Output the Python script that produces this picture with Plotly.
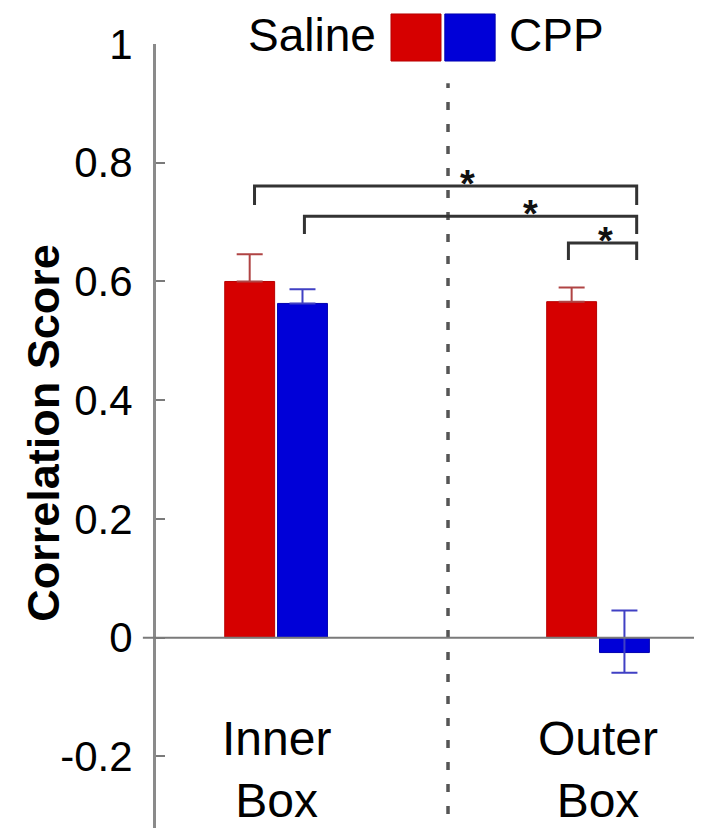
import plotly.graph_objects as go

# ---- data ----
categories = ["Inner Box", "Outer Box"]
category_labels = ["Inner<br>Box", "Outer<br>Box"]
saline_values = [0.600, 0.566]
saline_err_plus = [0.046, 0.024]
saline_err_minus = [0.0, 0.0]
cpp_values = [0.563, -0.025]
cpp_err_plus = [0.024, 0.071]
cpp_err_minus = [0.0, 0.034]
y_ticks = [-0.2, 0, 0.2, 0.4, 0.6, 0.8, 1]
y_tick_labels = ["-0.2", "0", "0.2", "0.4", "0.6", "0.8", "1"]

# significance brackets: (x_left, x_right, y_top, y_leg_bottom), star position
brackets = [(-0.067, 1.12, 0.761, 0.729), (0.088, 1.12, 0.710, 0.680), (0.908, 1.12, 0.665, 0.636)]
stars = [(0.595, 0.776), (0.790, 0.725), (1.023, 0.680)]
divider_x = 0.534

RED = "#d60000"
BLUE = "#0000d8"
FONT = "Liberation Sans, Arial, sans-serif"

fig = go.Figure()
fig.add_trace(go.Bar(
    x=categories, y=saline_values, name="Saline",
    marker=dict(color=RED, line=dict(color="#b80000", width=1)),
    error_y=dict(type="data", symmetric=False, array=saline_err_plus, arrayminus=saline_err_minus,
                 color="#b04444", thickness=2, width=13),
))
fig.add_trace(go.Bar(
    x=categories, y=cpp_values, name="CPP",
    marker=dict(color=BLUE, line=dict(color="#0000b0", width=1)),
    error_y=dict(type="data", symmetric=False, array=cpp_err_plus, arrayminus=cpp_err_minus,
                 color="#4040c4", thickness=2, width=13),
))

shapes = []
# divider dotted line
shapes.append(dict(type="line", xref="x", yref="y", x0=divider_x, x1=divider_x, y0=-0.334, y1=0.934,
                   line=dict(color="#555555", width=3.5, dash="8px,14px"), layer="below"))
# zero line extension left of the axis
shapes.append(dict(type="line", xref="paper", yref="y", x0=-0.024, x1=1, y0=0, y1=0,
                   line=dict(color="#7a7a7a", width=2)))
for x0, x1, yt, yb in brackets:
    shapes.append(dict(type="path", xref="x", yref="y",
                       path=f"M {x0},{yb} L {x0},{yt} L {x1},{yt} L {x1},{yb}",
                       line=dict(color="#333333", width=3)))
# legend swatches
shapes.append(dict(type="rect", xref="paper", yref="paper", x0=0.4296, x1=0.521, y0=0.9785, y1=1.0379,
                   fillcolor=RED, line=dict(color="#b80000", width=1)))
shapes.append(dict(type="rect", xref="paper", yref="paper", x0=0.528, x1=0.620, y0=0.9785, y1=1.0379,
                   fillcolor=BLUE, line=dict(color="#0000b0", width=1)))

annotations = []
for sx, sy in stars:
    annotations.append(dict(x=sx, y=sy, xref="x", yref="y", text="<b>*</b>", showarrow=False,
                            font=dict(size=38, color="#111111", family=FONT), yanchor="middle", yshift=-7))
for cat, lab in zip(categories, category_labels):
    annotations.append(dict(x=cat, y=-0.222, xref="x", yref="y", text=lab, showarrow=False,
                            font=dict(size=48, color="black", family=FONT), yanchor="middle", xanchor="center"))
annotations.append(dict(x=0.404, y=1.0, xref="paper", yref="paper", yshift=9, text="Saline", showarrow=False,
                        xanchor="right", yanchor="middle", borderpad=0,
                        font=dict(size=46, color="black", family=FONT)))
annotations.append(dict(x=0.6435, y=1.0, xref="paper", yref="paper", yshift=9, text="CPP", showarrow=False,
                        xanchor="left", yanchor="middle", borderpad=0,
                        font=dict(size=46, color="black", family=FONT)))
annotations.append(dict(x=0, y=0.509, xref="paper", yref="paper", xshift=-112, text="<b>Correlation Score</b>",
                        textangle=-90, showarrow=False, xanchor="center", yanchor="middle",
                        font=dict(size=45, color="black", family=FONT)))

fig.update_layout(
    width=702, height=828,
    margin=dict(l=148, r=7, t=36, b=0),
    paper_bgcolor="white", plot_bgcolor="white",
    barmode="group", bargap=0.672, bargroupgap=0.055,
    showlegend=False,
    shapes=shapes, annotations=annotations,
    xaxis=dict(range=[-0.373, 1.326], showticklabels=False, showgrid=False, zeroline=False,
               showline=False, ticks=""),
    yaxis=dict(range=[-0.334, 1.0], tickvals=y_ticks, ticktext=y_tick_labels,
               showgrid=False, zeroline=False, showline=True, linecolor="#8a8a8a", linewidth=3,
               ticks="inside", ticklen=9, tickwidth=2, tickcolor="#7a7a7a",
               ticklabelstandoff=12,
               tickfont=dict(size=42, color="black", family=FONT)),
)

fig.write_html("out.html")
